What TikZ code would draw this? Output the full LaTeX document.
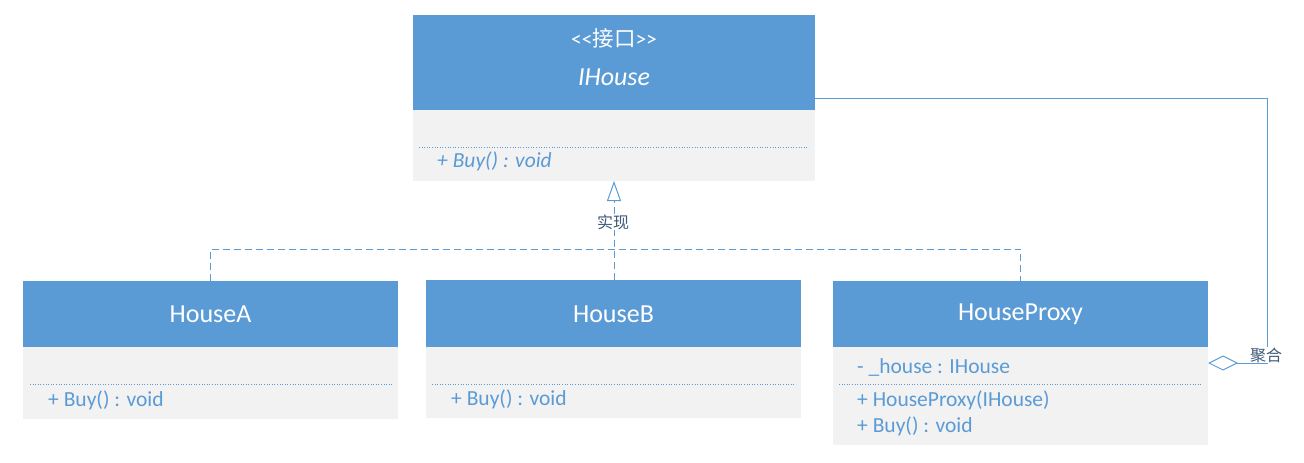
\documentclass[tikz,border=0pt]{standalone}
\usepackage{fontspec}
\setmainfont{Carlito}
\newfontfamily\cjk{Noto Sans CJK SC}
\usetikzlibrary{arrows.meta}
\definecolor{hdr}{HTML}{5B9BD5}
\definecolor{bodyc}{HTML}{F2F2F2}
\definecolor{lbl}{HTML}{3E5A78}
\begin{document}
\begin{tikzpicture}[x=1pt,y=-1pt,
 hdrbox/.style={fill=hdr, draw=none, anchor=north west, inner sep=0, outer sep=0},
 bodybox/.style={fill=bodyc, draw=none, anchor=north west, inner sep=0, outer sep=0},
 title/.style={text=white, font=\fontsize{26}{30}\selectfont, inner sep=0},
 member/.style={text=hdr, font=\fontsize{21.5}{24}\selectfont, anchor=west, inner sep=0},
 sep/.style={draw=hdr, dotted, line width=0.6pt},
 conn/.style={draw=hdr, line width=1pt},
 realize/.style={conn, dash pattern=on 7pt off 4pt},
 tag/.style={text=lbl, font=\cjk\fontsize{16}{18}\selectfont, fill=white, inner sep=1pt}]
\useasboundingbox (0,0) rectangle (1304,463);

% IHouse
\node[hdrbox, minimum width=402pt, minimum height=95pt] (ihH) at (413,15) {};
\node[bodybox, minimum width=402pt, minimum height=71pt] (ihB) at (413,110) {};
\node[title, font=\fontsize{21.5}{24}\selectfont] (ihS) at (614,38) {\textless\kern0pt\textless\kern0pt{\cjk 接口}\kern0pt\textgreater\kern0pt\textgreater};
\node[title, font=\fontsize{26}{30}\selectfont\itshape] (ihN) at (614,77) {IHouse};
\draw[sep] (419,147) -- (809,147);
\node[member, font=\fontsize{21.5}{24}\selectfont\itshape] (ihM1) at (437,161) {+ Buy() : void};

% HouseA
\node[hdrbox, minimum width=375pt, minimum height=66pt] (haH) at (23,281) {};
\node[bodybox, minimum width=375pt, minimum height=72pt] (haB) at (23,347) {};
\node[title] (haN) at (210.5,314) {HouseA};
\draw[sep] (30,384) -- (393,384);
\node[member] (haM1) at (48,400) {+ Buy() : void};

% HouseB
\node[hdrbox, minimum width=375pt, minimum height=67pt] (hbH) at (426,280) {};
\node[bodybox, minimum width=375pt, minimum height=71pt] (hbB) at (426,347) {};
\node[title] (hbN) at (613.5,314) {HouseB};
\draw[sep] (432,384) -- (796,384);
\node[member] (hbM1) at (451,399) {+ Buy() : void};

% HouseProxy
\node[hdrbox, minimum width=375pt, minimum height=66pt] (hpH) at (833,281) {};
\node[bodybox, minimum width=375pt, minimum height=98pt] (hpB) at (833,347) {};
\node[title] (hpN) at (1020.5,314) {HouseProxy};
\node[member] (hpA1) at (857,367) {-\ \_house : IHouse};
\draw[sep] (839,384) -- (1202,384);
\node[member] (hpM1) at (857,400) {+ HouseProxy(IHouse)};
\node[member] (hpM2) at (857,426) {+ Buy() : void};

% realization
\coordinate (jl) at (210.5,249);
\coordinate (jr) at (1020.5,249);
\coordinate (jb) at (614,280);
\coordinate (jt) at (614,181);
\draw[realize] (haH.north) -- (jl) -- (jr) -- (hpH.north);
\draw[realize, -{Triangle[open, length=20pt, width=14pt]}] (jb) -- (jt);
\node[tag] (real) at (613,222) {实现};

% aggregation
\coordinate (ip) at (815,98);
\coordinate (ap) at (1208,363);
\coordinate (ac) at (1267,363);
\draw[conn, {Diamond[open, length=30pt, width=15pt]}-] (ap) -- (ac) |- (ip);
\node[tag] (agg) at (1266,355) {聚合};
\end{tikzpicture}
\end{document}
